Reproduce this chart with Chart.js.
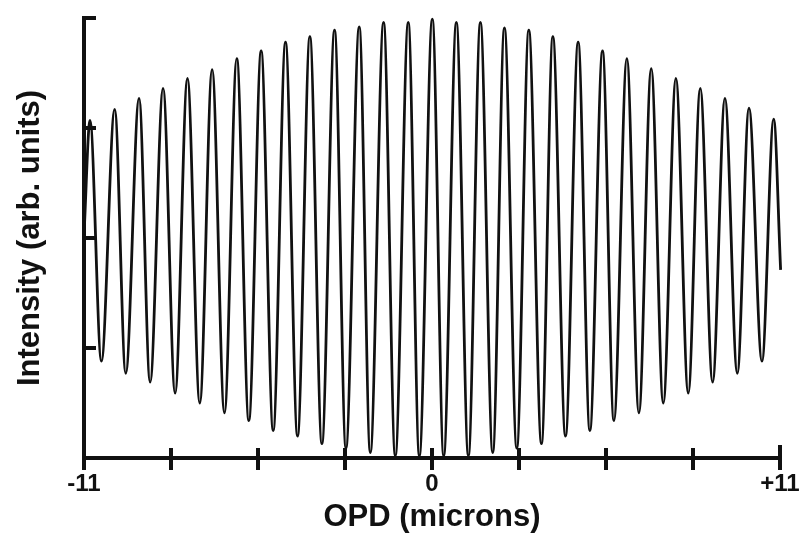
<!DOCTYPE html>
<html>
<head>
<meta charset="utf-8">
<script src="https://cdn.jsdelivr.net/npm/chart.js@4/dist/chart.umd.min.js"></script>
<style>
  html, body { margin: 0; padding: 0; background: #ffffff; }
  canvas { display: block; }
</style>
</head>
<body>
<canvas id="c" width="799" height="535"></canvas>
<script>
// ---- Data (OPD in microns, intensity in arbitrary units) ----
const peakX = [-10.81,-10.03,-9.26,-8.50,-7.73,-6.95,-6.17,-5.40,-4.63,-3.86,-3.08,-2.30,-1.53,-0.75,0.01,0.77,1.53,2.29,3.06,3.82,4.62,5.39,6.16,6.93,7.71,8.48,9.26,10.02,10.80];
const peakY = [3.07,3.17,3.27,3.36,3.45,3.53,3.63,3.70,3.78,3.83,3.89,3.92,3.96,3.96,3.99,3.96,3.96,3.91,3.89,3.83,3.78,3.70,3.63,3.54,3.45,3.36,3.27,3.18,3.08];
const troughX = [-10.45,-9.68,-8.91,-8.12,-7.34,-6.56,-5.79,-5.02,-4.25,-3.48,-2.72,-1.95,-1.16,-0.40,0.37,1.15,1.92,2.68,3.46,4.22,4.99,5.75,6.54,7.31,8.10,8.87,9.65,10.43];
const troughY = [0.88,0.77,0.69,0.59,0.50,0.41,0.34,0.25,0.20,0.13,0.09,0.05,0.02,0.02,0.02,0.02,0.05,0.09,0.13,0.20,0.25,0.34,0.41,0.50,0.59,0.69,0.77,0.88];
const endsX = [-11.0, 11.02];
const endsY = [2.03, 1.71];

const xTickValues = [-11,-8.25,-5.5,-2.75,0,2.75,5.5,8.25,11];
const xTickLabels = ['-11','','','','0','','','','+11'];
const yTickValues = [0,1,2,3,4];

const xTitle = 'OPD (microns)';
const yTitle = 'Intensity (arb. units)';

// ---- Build the point list from the arrays ----
const points = [];
peakX.forEach((x, i) => points.push({x: x, y: peakY[i]}));
troughX.forEach((x, i) => points.push({x: x, y: troughY[i]}));
endsX.forEach((x, i) => points.push({x: x, y: endsY[i]}));
points.sort((a, b) => a.x - b.x);

const INK = '#111111';
const FONT = 'Liberation Sans, Arial, Helvetica, sans-serif';

const whiteBg = {
  id: 'whiteBg',
  beforeDraw(chart) {
    const ctx = chart.ctx;
    ctx.save();
    ctx.fillStyle = '#ffffff';
    ctx.fillRect(0, 0, chart.width, chart.height);
    ctx.restore();
  }
};

// tick marks crossing / inside the axes
const tickMarks = {
  id: 'tickMarks',
  afterDraw(chart) {
    const ctx = chart.ctx;
    const xs = chart.scales.x, ys = chart.scales.y;
    const area = chart.chartArea;
    ctx.save();
    ctx.strokeStyle = INK;
    ctx.lineWidth = 4;
    ctx.lineCap = 'butt';
    xTickValues.forEach((v, i) => {
      const px = xs.getPixelForValue(v);
      const up = (i === xTickValues.length - 1) ? 13 : 10;
      ctx.beginPath();
      ctx.moveTo(px, area.bottom - up);
      ctx.lineTo(px, area.bottom + 12);
      ctx.stroke();
    });
    yTickValues.forEach(v => {
      const py = ys.getPixelForValue(v);
      ctx.beginPath();
      ctx.moveTo(area.left - 2, py);
      ctx.lineTo(area.left + 12, py);
      ctx.stroke();
    });
    ctx.restore();
  }
};

new Chart(document.getElementById('c'), {
  type: 'line',
  data: {
    datasets: [{
      data: points,
      borderColor: INK,
      borderWidth: 2.8,
      pointRadius: 0,
      cubicInterpolationMode: 'monotone',
      fill: false,
      clip: false
    }]
  },
  options: {
    responsive: false,
    animation: false,
    devicePixelRatio: 1,
    layout: { padding: { top: 18, right: 19, left: 0, bottom: 0 } },
    plugins: {
      legend: { display: false },
      tooltip: { enabled: false }
    },
    scales: {
      x: {
        type: 'linear',
        position: 'bottom',
        min: -11,
        max: 11,
        afterBuildTicks(scale) {
          scale.ticks = xTickValues.map(v => ({ value: v }));
        },
        afterFit(scale) {
          scale.height = 77;
          scale.paddingLeft = 0;
          scale.paddingRight = 0;
        },
        grid: { display: false, drawTicks: false },
        border: { display: true, color: INK, width: 4 },
        ticks: {
          autoSkip: false,
          maxRotation: 0,
          padding: 12,
          color: INK,
          font: { family: FONT, size: 24, weight: 'bold' },
          callback(value) {
            const i = xTickValues.indexOf(value);
            return i >= 0 ? xTickLabels[i] : '';
          }
        },
        title: {
          display: true,
          text: xTitle,
          color: INK,
          padding: { top: 0, bottom: 0 },
          font: { family: FONT, size: 31, weight: 'bold', lineHeight: 1.1 }
        }
      },
      y: {
        type: 'linear',
        position: 'left',
        min: 0,
        max: 4,
        afterBuildTicks(scale) {
          scale.ticks = yTickValues.map(v => ({ value: v }));
        },
        afterFit(scale) {
          scale.width = 84;
          scale.paddingTop = 0;
          scale.paddingBottom = 0;
        },
        grid: { display: false, drawTicks: false },
        border: { display: true, color: INK, width: 4 },
        ticks: { display: false },
        title: {
          display: true,
          text: yTitle,
          color: INK,
          padding: { top: 12, bottom: 0 },
          font: { family: FONT, size: 31, weight: 'bold', lineHeight: 1.2 }
        }
      }
    }
  },
  plugins: [whiteBg, tickMarks]
});
</script>
</body>
</html>
